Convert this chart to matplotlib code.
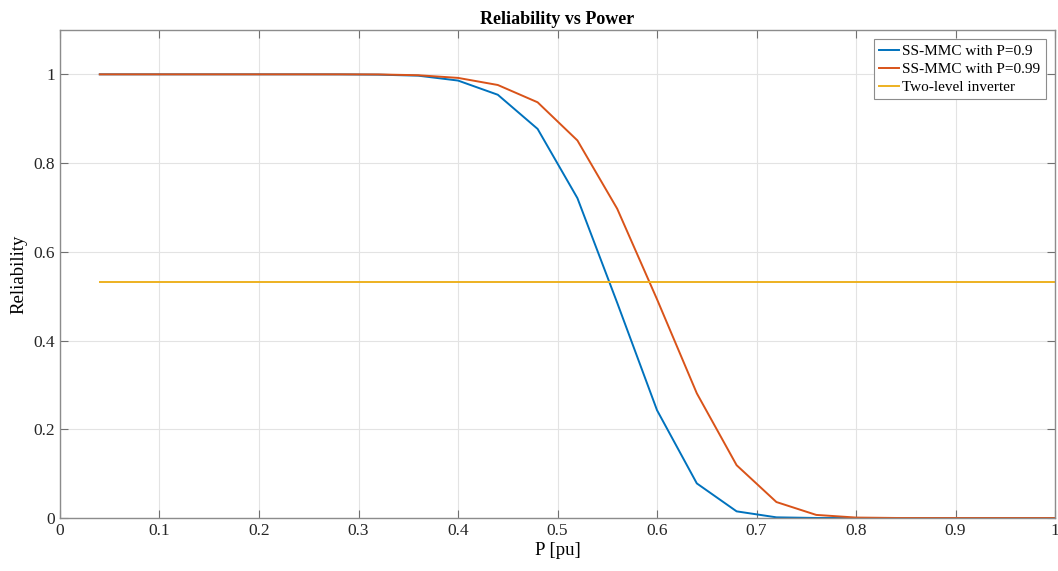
import matplotlib.pyplot as plt
import matplotlib.ticker as mticker
import numpy as np

# Power levels (pu) and reliability values
power = [0.04, 0.08, 0.12, 0.16, 0.20, 0.24, 0.28, 0.32, 0.36, 0.40,
         0.44, 0.48, 0.52, 0.56, 0.60, 0.64, 0.68, 0.72, 0.76, 0.80,
         0.84, 0.88, 0.92, 0.96, 1.00]
rel_p090 = [1.0, 1.0, 1.0, 1.0, 1.0, 1.0, 0.9999, 0.9993, 0.997, 0.986,
            0.954, 0.877, 0.721, 0.485, 0.243, 0.078, 0.015, 0.0015, 0.0001, 0.0,
            0.0, 0.0, 0.0, 0.0, 0.0]
rel_p099 = [1.0, 1.0, 1.0, 1.0, 1.0, 1.0, 1.0, 0.9998, 0.998, 0.992,
            0.976, 0.937, 0.851, 0.697, 0.493, 0.281, 0.119, 0.036, 0.007, 0.001,
            0.0001, 0.0, 0.0, 0.0, 0.0]
two_level = [0.532] * len(power)

labels = ['SS-MMC with P=0.9', 'SS-MMC with P=0.99', 'Two-level inverter']

plt.rcParams['font.family'] = ['Liberation Serif', 'DejaVu Serif']

fig = plt.figure(figsize=(10.58, 5.71), dpi=100)
ax = fig.add_axes([0.0567, 0.0928, 0.9405, 0.8547])

ax.plot(power, rel_p090, color='#0072BD', lw=1.4, label=labels[0])
ax.plot(power, rel_p099, color='#D95319', lw=1.4, label=labels[1])
ax.plot(power, two_level, color='#EDB120', lw=1.4, label=labels[2])

ax.set_xlim(0, 1)
ax.set_ylim(0, 1.1)
ax.set_xticks(np.arange(0, 1.01, 0.1))
ax.set_yticks(np.arange(0, 1.01, 0.2))
ax.xaxis.set_major_formatter(mticker.FormatStrFormatter('%g'))
ax.yaxis.set_major_formatter(mticker.FormatStrFormatter('%g'))
ax.tick_params(direction='in', length=6, width=0.8, color='#707070',
               labelsize=12.5, top=True, right=True, labelcolor='#262626')
for sp in ax.spines.values():
    sp.set_color('#8c8c8c')
    sp.set_linewidth(1.0)
ax.grid(True, color='#e3e3e3', lw=0.8)
ax.set_axisbelow(True)

ax.set_title('Reliability vs Power', fontsize=13, fontweight='bold', pad=4)
ax.set_xlabel('P [pu]', fontsize=13.5, labelpad=2)
ax.set_ylabel('Reliability', fontsize=13.5, labelpad=4)

leg = ax.legend(loc='upper right', fontsize=11, handlelength=1.3,
                handletextpad=0.2, borderpad=0.35, labelspacing=0.28,
                fancybox=False, framealpha=1, borderaxespad=0.6)
leg.get_frame().set_edgecolor('#8c8c8c')
leg.get_frame().set_linewidth(0.8)

plt.savefig('out.png', dpi=100)
